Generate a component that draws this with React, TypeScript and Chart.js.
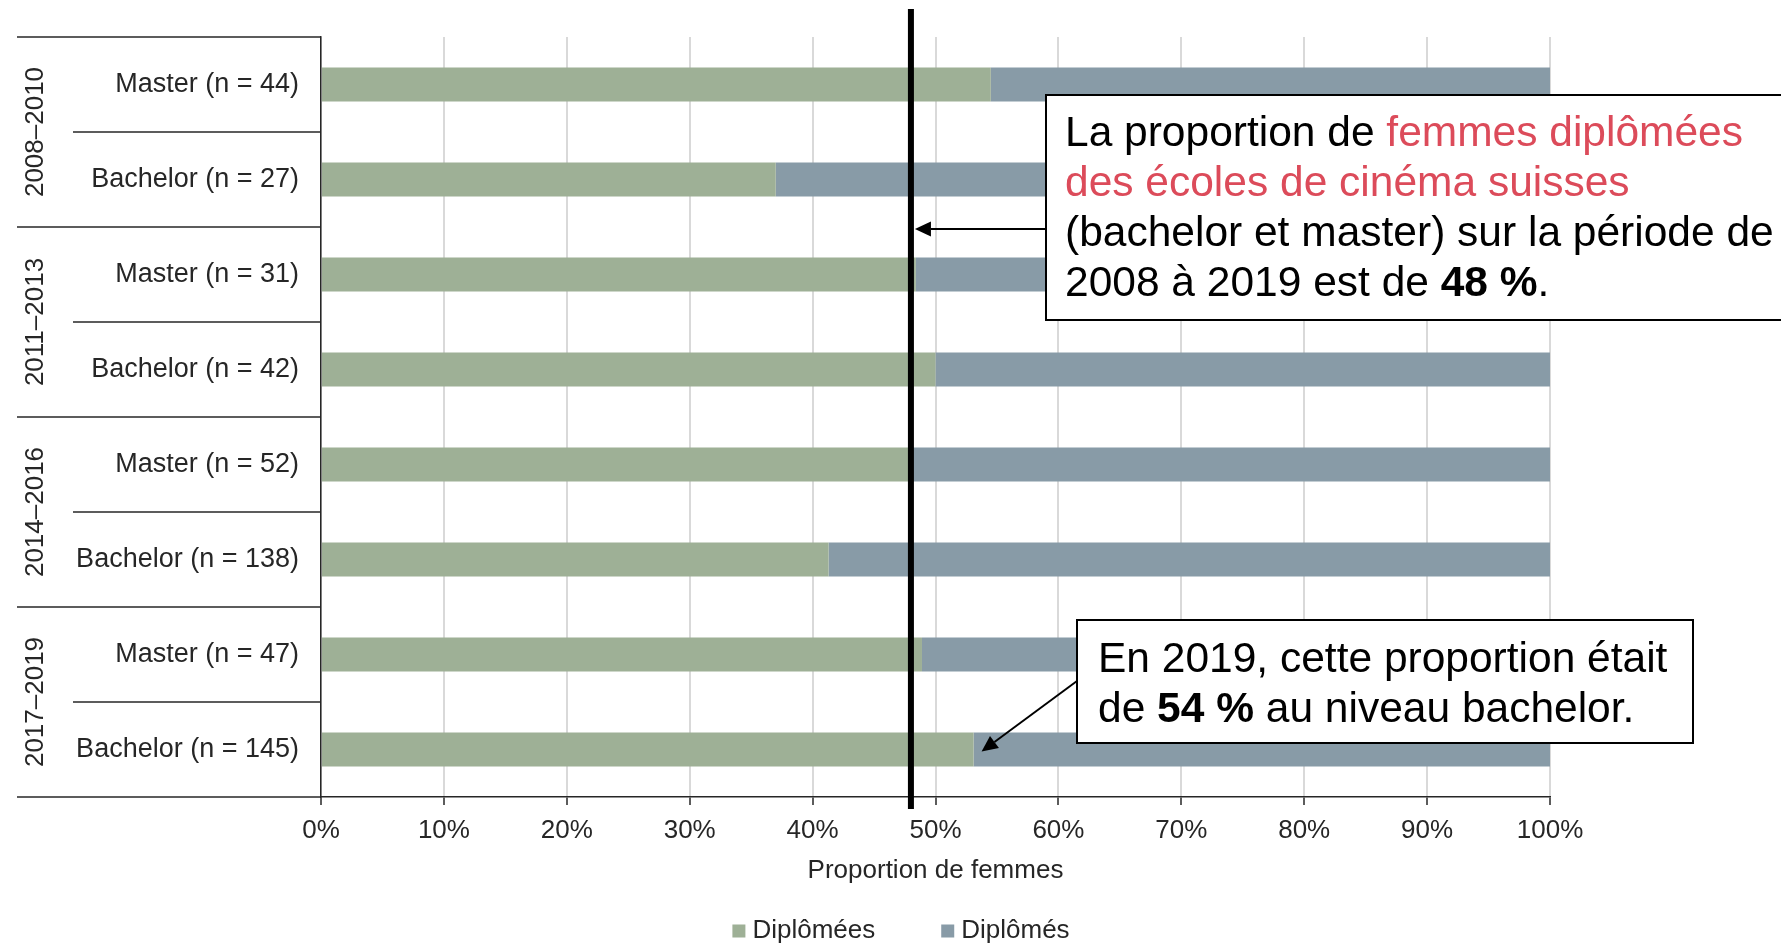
import React, { useEffect, useRef } from 'react';
import { Chart, registerables } from 'chart.js';

Chart.register(...registerables);

// ---------- data ----------
const categories = [
  'Master (n = 44)',
  'Bachelor (n = 27)',
  'Master (n = 31)',
  'Bachelor (n = 42)',
  'Master (n = 52)',
  'Bachelor (n = 138)',
  'Master (n = 47)',
  'Bachelor (n = 145)',
];
const periods = ['2008–2010', '2011–2013', '2014–2016', '2017–2019'];
const women = [54.5, 37.0, 48.4, 50.0, 48.1, 41.3, 48.9, 53.1];
const men = [45.5, 63.0, 51.6, 50.0, 51.9, 58.7, 51.1, 46.9];
const seriesLabels = ['Diplômées', 'Diplômés'];
const axisMin = 0;
const axisMax = 100;
const axisStep = 10;
const axisTitle = 'Proportion de femmes';
const overallShare = 48;
const highlightIndex = 7;

// ---------- styles ----------
const FONT = "'Liberation Sans', Arial, Helvetica, sans-serif";
const TEXT = '#262626';
const GREEN = '#9EB096';
const GREY = '#889BA7';
const RED = '#DC4B5A';

function drawArrow(ctx: CanvasRenderingContext2D, x1: number, y1: number, x2: number, y2: number) {
  const ang = Math.atan2(y2 - y1, x2 - x1);
  const L = 16;
  const W = 7.5;
  const bx = x2 - L * Math.cos(ang);
  const by = y2 - L * Math.sin(ang);
  ctx.beginPath();
  ctx.moveTo(x1, y1);
  ctx.lineTo(bx, by);
  ctx.stroke();
  ctx.beginPath();
  ctx.moveTo(x2, y2);
  ctx.lineTo(bx + W * Math.sin(ang), by - W * Math.cos(ang));
  ctx.lineTo(bx - W * Math.sin(ang), by + W * Math.cos(ang));
  ctx.closePath();
  ctx.fill();
}

type Seg = { t: string; c?: string; b?: boolean };
function drawRich(ctx: CanvasRenderingContext2D, segs: Seg[], x: number, y: number, size: number) {
  let cx = x;
  for (const s of segs) {
    ctx.font = `${s.b ? 'bold ' : ''}${size}px ${FONT}`;
    ctx.fillStyle = s.c || '#000';
    ctx.fillText(s.t, cx, y);
    cx += ctx.measureText(s.t).width;
  }
}

const overlayPlugin = {
  id: 'overlay',
  afterDraw(chart: any) {
    const { ctx, chartArea, scales } = chart;
    const xs = scales.x;
    const ys = scales.y;
    const n = categories.length;
    const band = (chartArea.bottom - chartArea.top) / n;
    ctx.save();

    // left separators
    ctx.strokeStyle = TEXT;
    ctx.lineWidth = 1.5;
    for (let k = 0; k <= n; k++) {
      const yy = chartArea.top + k * band;
      const x0 = k % 2 === 0 ? 17 : 73;
      ctx.beginPath();
      ctx.moveTo(x0, yy);
      ctx.lineTo(chartArea.left, yy);
      ctx.stroke();
    }

    // period labels (rotated)
    ctx.fillStyle = TEXT;
    ctx.font = `26px ${FONT}`;
    ctx.textAlign = 'center';
    ctx.textBaseline = 'middle';
    periods.forEach((p, i) => {
      const cy = chartArea.top + (2 * i + 1) * band;
      ctx.save();
      ctx.translate(36, cy);
      ctx.rotate(-Math.PI / 2);
      ctx.fillText(p, 0, 0);
      ctx.restore();
    });

    // overall share line
    const xv = xs.getPixelForValue(overallShare);
    ctx.fillStyle = '#000';
    ctx.fillRect(xv - 3, 9, 6, 800);

    // annotation box 1
    ctx.textAlign = 'left';
    ctx.textBaseline = 'alphabetic';
    ctx.fillStyle = '#fff';
    ctx.fillRect(1046, 95, 800, 225);
    ctx.strokeStyle = '#000';
    ctx.lineWidth = 2;
    ctx.strokeRect(1046, 95, 800, 225);
    const fs = 42.5;
    drawRich(ctx, [{ t: 'La proportion de ' }, { t: 'femmes diplômées', c: RED }], 1065, 146, fs);
    drawRich(ctx, [{ t: 'des écoles de cinéma suisses', c: RED }], 1065, 196, fs);
    drawRich(ctx, [{ t: '(bachelor et master) sur la période de' }], 1065, 246, fs);
    drawRich(ctx, [{ t: '2008 à 2019 est de ' }, { t: `${overallShare} %`, b: true }, { t: '.' }], 1065, 296, fs);
    ctx.fillStyle = '#000';
    ctx.lineWidth = 2;
    drawArrow(ctx, 1046, 229, xv + 4, 229);

    // annotation box 2
    ctx.fillStyle = '#fff';
    ctx.fillRect(1077, 620, 616, 123);
    ctx.strokeStyle = '#000';
    ctx.strokeRect(1077, 620, 616, 123);
    drawRich(ctx, [{ t: 'En 2019, cette proportion était' }], 1098, 672, fs);
    drawRich(ctx, [{ t: 'de ' }, { t: '54 %', b: true }, { t: ' au niveau bachelor.' }], 1098, 722, fs);
    ctx.fillStyle = '#000';
    drawArrow(ctx, 1077, 681, xs.getPixelForValue(women[highlightIndex]) + 8, ys.getPixelForValue(highlightIndex) + 2);

    // legend
    const ds = chart.data.datasets;
    ctx.font = `26px ${FONT}`;
    ctx.textBaseline = 'middle';
    const gap = 66;
    const boxGap = 20;
    const widths = ds.map((d: any) => boxGap + ctx.measureText(d.label).width);
    const total = widths.reduce((a: number, b: number) => a + b, 0) + gap * (ds.length - 1);
    let lx = 901 - total / 2;
    const ly = 931;
    ds.forEach((d: any, i: number) => {
      ctx.fillStyle = d.backgroundColor;
      ctx.fillRect(lx, ly - 6.5, 13, 13);
      ctx.fillStyle = TEXT;
      ctx.fillText(d.label, lx + boxGap, ly);
      lx += widths[i] + gap;
    });

    ctx.restore();
  },
};

export default function App() {
  const ref = useRef<HTMLCanvasElement>(null);
  useEffect(() => {
    const chart = new Chart(ref.current as HTMLCanvasElement, {
      type: 'bar',
      data: {
        labels: categories,
        datasets: [
          { label: seriesLabels[0], data: women, backgroundColor: GREEN, borderWidth: 0 },
          { label: seriesLabels[1], data: men, backgroundColor: GREY, borderWidth: 0 },
        ],
      },
      options: {
        indexAxis: 'y',
        responsive: false,
        animation: false,
        devicePixelRatio: 1,
        layout: { padding: { top: 37, right: 231, bottom: 0, left: 0 } },
        plugins: {
          legend: { display: false },
          tooltip: { enabled: false },
        },
        datasets: { bar: { categoryPercentage: 1, barPercentage: 0.358 } },
        scales: {
          x: {
            type: 'linear',
            stacked: true,
            min: axisMin,
            max: axisMax,
            ticks: {
              stepSize: axisStep,
              padding: 10,
              color: TEXT,
              font: { family: FONT, size: 26 },
              callback: (v: any) => `${v}%`,
            },
            grid: {
              color: '#D9D9D9',
              lineWidth: 2,
              drawTicks: true,
              tickLength: 8,
              tickColor: TEXT,
              tickWidth: 1.5,
            },
            border: { display: true, color: TEXT, width: 1.5 },
            title: {
              display: true,
              text: axisTitle,
              color: TEXT,
              font: { family: FONT, size: 26 },
              padding: { top: 4, bottom: 58 },
            },
            afterFit: (scale: any) => {
              scale.height = 147;
            },
          },
          y: {
            type: 'category',
            stacked: true,
            ticks: {
              autoSkip: false,
              padding: 22,
              color: TEXT,
              font: { family: FONT, size: 27 },
            },
            grid: { display: false, drawTicks: false },
            border: { display: true, color: TEXT, width: 1.5 },
            afterFit: (scale: any) => {
              scale.width = 321;
              scale.paddingTop = 0;
              scale.paddingBottom = 0;
            },
          },
        },
      } as any,
      plugins: [overlayPlugin],
    });
    return () => chart.destroy();
  }, []);
  return (
    <div style={{ position: 'fixed', left: 0, top: 0, width: 1781, height: 944, background: '#fff' }}>
      <canvas ref={ref} width={1781} height={944} style={{ display: 'block', width: 1781, height: 944 }} />
    </div>
  );
}
